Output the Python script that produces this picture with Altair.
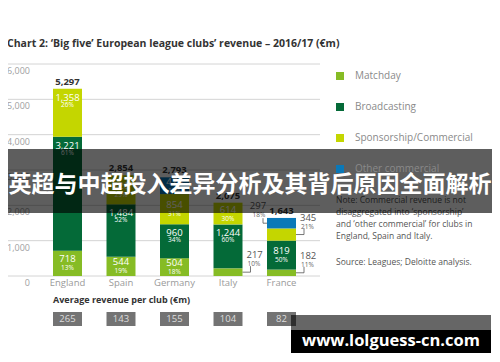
import altair as alt
import pandas as pd

# ---------------- data ----------------
leagues = ["England", "Spain", "Germany", "Italy", "France"]
segments = ["Matchday", "Broadcasting", "Sponsorship/Commercial", "Other commercial"]
seg_colors = ["#86BC25", "#046A38", "#C4D600", "#0A78B8"]

matchday = [718, 544, 504, 217, 182]
broadcasting = [3221, 1484, 960, 1244, 819]
sponsorship = [1358, 826, 854, 614, 345]
other_commercial = [0, 0, 475, 0, 297]

matchday_pct = [13, 19, 18, 10, 11]
broadcasting_pct = [61, 52, 34, 60, 50]
sponsorship_pct = [26, 29, 31, 30, 21]
other_pct = [0, 0, 17, 0, 18]

totals = [5297, 2854, 2793, 2075, 1643]
avg_per_club = [265, 143, 155, 104, 82]
y_ticks = [0, 1000, 2000, 3000, 4000, 5000, 6000]

title_text = "Chart 2: \u2018Big five\u2019 European league clubs\u2019 revenue \u2013 2016/17 (\u20acm)"
avg_title = "Average revenue per club (\u20acm)"
note_lines = [
    "Note: Commercial revenue is not",
    "disaggregated into \u2018sponsorship\u2019",
    "and \u2018other commercial\u2019 for clubs in",
    "England, Spain and Italy.",
]
source_text = "Source: Leagues; Deloitte analysis."
banner_text = "英超与中超投入差异分析及其背后原因全面解析"
watermark_text = "www.lolguess-cn.com"

# label placement style per segment
placement = {
    ("England", "Matchday"): "mid", ("England", "Broadcasting"): "top",
    ("England", "Sponsorship/Commercial"): "top",
    ("Spain", "Matchday"): "mid", ("Spain", "Broadcasting"): "top",
    ("Spain", "Sponsorship/Commercial"): "mid",
    ("Germany", "Matchday"): "mid", ("Germany", "Broadcasting"): "top",
    ("Germany", "Sponsorship/Commercial"): "mid", ("Germany", "Other commercial"): "mid",
    ("Italy", "Matchday"): "right", ("Italy", "Broadcasting"): "top",
    ("Italy", "Sponsorship/Commercial"): "mid",
    ("France", "Matchday"): "right", ("France", "Broadcasting"): "mid",
    ("France", "Sponsorship/Commercial"): "right", ("France", "Other commercial"): "left",
}

rows = []
for i, lg in enumerate(leagues):
    base = 0
    for s, vals, pcts in zip(segments,
                             [matchday, broadcasting, sponsorship, other_commercial],
                             [matchday_pct, broadcasting_pct, sponsorship_pct, other_pct]):
        v = vals[i]
        if v == 0:
            continue
        rows.append(dict(league=lg, segment=s, value=v, start=base, end=base + v,
                         mid=base + v / 2,
                         vlabel=f"{v:,}", plabel=f"{pcts[i]}%",
                         pos=placement[(lg, s)]))
        base += v
df = pd.DataFrame(rows)
df_tot = pd.DataFrame({"league": leagues, "total": totals,
                       "tlabel": [f"{t:,}" for t in totals],
                       "avg": [str(a) for a in avg_per_club]})
df_ticks = pd.DataFrame({"v": y_ticks, "label": [f"{t:,}" for t in y_ticks]})
one = pd.DataFrame({"k": [0]})

FONT = "Open Sans"
xscale = alt.Scale(domain=leagues, range=[45, 288], paddingInner=0.458, paddingOuter=0)
yscale = alt.Scale(domain=[0, 6000], range=[268, 56])


def X(bp=None):
    if bp is None:
        return alt.X("league:N", scale=xscale, axis=None, sort=leagues)
    return alt.X("league:N", scale=xscale, axis=None, sort=leagues, bandPosition=bp)


def Y(f):
    return alt.Y(f, scale=yscale, axis=None)


grid = alt.Chart(df_ticks).mark_rule(color="#d4d4d4", strokeWidth=1).encode(
    y=Y("v:Q"), x=alt.value(0), x2=alt.value(312))
ylabels = alt.Chart(df_ticks).mark_text(align="right", color="#a0a0a0", fontSize=9,
                                        font=FONT, dy=7).encode(
    y=Y("v:Q"), x=alt.value(22), text="label:N")

bars = alt.Chart(df).mark_bar().encode(
    x=X(), y=Y("start:Q"), y2="end:Q",
    color=alt.Color("segment:N", scale=alt.Scale(domain=segments, range=seg_colors),
                    legend=alt.Legend(orient="none", legendX=327, legendY=63, title=None,
                                      symbolType="square", symbolSize=64,
                                      symbolStrokeWidth=0, labelFontSize=10,
                                      labelColor="#8a8a8a", labelFont=FONT,
                                      rowPadding=21, labelOffset=10)))


def inside(pos, field, dv, dp):
    base = alt.Chart(df).transform_filter(alt.datum.pos == pos)
    a = base.mark_text(color="white", fontSize=9.5, font=FONT, dy=dv).encode(
        x=X(), y=Y(field), text="vlabel:N")
    b = base.mark_text(color="white", fontSize=6.5, font=FONT, dy=dp).encode(
        x=X(), y=Y(field), text="plabel:N")
    return a + b


lab_top = inside("top", "end:Q", 9, 16)
lab_mid = inside("mid", "mid:Q", -4, 5)

LC = "#555555"
rbase = alt.Chart(df).transform_filter(alt.datum.pos == "right")
lab_right = (
    rbase.mark_text(color=LC, fontSize=9.5, font=FONT, align="left", dx=4, dy=-17).encode(
        x=X(1), y=Y("mid:Q"), text="vlabel:N")
    + rbase.mark_text(color="#666", fontSize=6.5, font=FONT, align="left", dx=5, dy=-8).encode(
        x=X(1), y=Y("mid:Q"), text="plabel:N")
    + rbase.mark_rule(color=LC, strokeWidth=0.8, x2Offset=8).encode(
        x=X(1), x2=alt.X2("league:N", bandPosition=1), y=Y("mid:Q"))
    + rbase.mark_rule(color=LC, strokeWidth=0.8, xOffset=8, y2Offset=-6).encode(
        x=X(1), y=Y("mid:Q"), y2="mid:Q")
)
lbase = alt.Chart(df).transform_filter(alt.datum.pos == "left")
lab_left = (
    lbase.mark_text(color=LC, fontSize=9.5, font=FONT, align="center", dx=-9, dy=-17).encode(
        x=X(0), y=Y("mid:Q"), text="vlabel:N")
    + lbase.mark_text(color="#666", fontSize=6.5, font=FONT, align="center", dx=-8, dy=-8).encode(
        x=X(0), y=Y("mid:Q"), text="plabel:N")
    + lbase.mark_rule(color=LC, strokeWidth=0.8, xOffset=-4).encode(
        x=X(0), x2=alt.X2("league:N", bandPosition=0), y=Y("mid:Q"))
    + lbase.mark_rule(color=LC, strokeWidth=0.8, xOffset=-4, y2Offset=-5).encode(
        x=X(0), y=Y("mid:Q"), y2="mid:Q")
)

tot = alt.Chart(df_tot).mark_text(color="#333", fontSize=9.5, font=FONT,
                                  fontWeight="bold", dy=-7).encode(
    x=X(), y=Y("total:Q"), text="tlabel:N")

xlabels = alt.Chart(df_tot).mark_text(color="#9a9a9a", fontSize=9.5, font=FONT).encode(
    x=X(), y=alt.value(275), text="league:N")

avg_t = alt.Chart(one).mark_text(align="left", color="#333", fontSize=9, font=FONT,
                                 fontWeight="bold").encode(
    x=alt.value(45), y=alt.value(292), text=alt.value(avg_title))
avg_box = alt.Chart(df_tot).mark_bar(color="#737373").encode(
    x=X(), y=alt.value(304), y2=alt.value(318))
avg_txt = alt.Chart(df_tot).mark_text(color="#dddddd", fontSize=9.5, font=FONT).encode(
    x=X(), y=alt.value(311), text="avg:N")

title = alt.Chart(one).mark_text(align="left", color="#333", fontSize=10.5, font=FONT,
                                 fontWeight="bold").encode(
    x=alt.value(-1), y=alt.value(36), text=alt.value(title_text))

df_note = pd.DataFrame({"t": note_lines + [source_text],
                        "yy": [192, 204, 216, 228, 254]})
notes = alt.Chart(df_note).mark_text(align="left", color="#555", fontSize=8.5,
                                     font=FONT).encode(
    x=alt.value(328), y=alt.Y("yy:Q", scale=None, axis=None), text="t:N")

banner = alt.Chart(one).mark_rect(color="black", opacity=0.63).encode(
    x=alt.value(0), x2=alt.value(484), y=alt.value(141), y2=alt.value(205))
banner_t = alt.Chart(one).mark_text(color="white", fontSize=23, font="Noto Sans CJK SC",
                                    fontWeight="bold").encode(
    x=alt.value(242), y=alt.value(177), text=alt.value(banner_text))

wm_strip = alt.Chart(one).mark_rect(color="black", opacity=0.6).encode(
    x=alt.value(283), x2=alt.value(483), y=alt.value(307), y2=alt.value(322))
wm_box = alt.Chart(one).mark_rect(color="black", opacity=1).encode(
    x=alt.value(283), x2=alt.value(483), y=alt.value(322), y2=alt.value(345))
wm_t = alt.Chart(one).mark_text(color="white", fontSize=16.5, font=FONT,
                                fontWeight="bold").encode(
    x=alt.value(383), y=alt.value(333), text=alt.value(watermark_text))

chart = alt.layer(
    grid, ylabels, bars, lab_top, lab_mid, lab_right, lab_left, tot, xlabels,
    avg_t, avg_box, avg_txt, title, notes, banner, banner_t, wm_strip, wm_box, wm_t
).properties(
    width=484, height=346, autosize=alt.AutoSizeParams(type="none"), padding=0,
    background="white"
).configure_view(stroke=None)

chart.save("out.html", embed_options={"renderer": "svg", "actions": False})
